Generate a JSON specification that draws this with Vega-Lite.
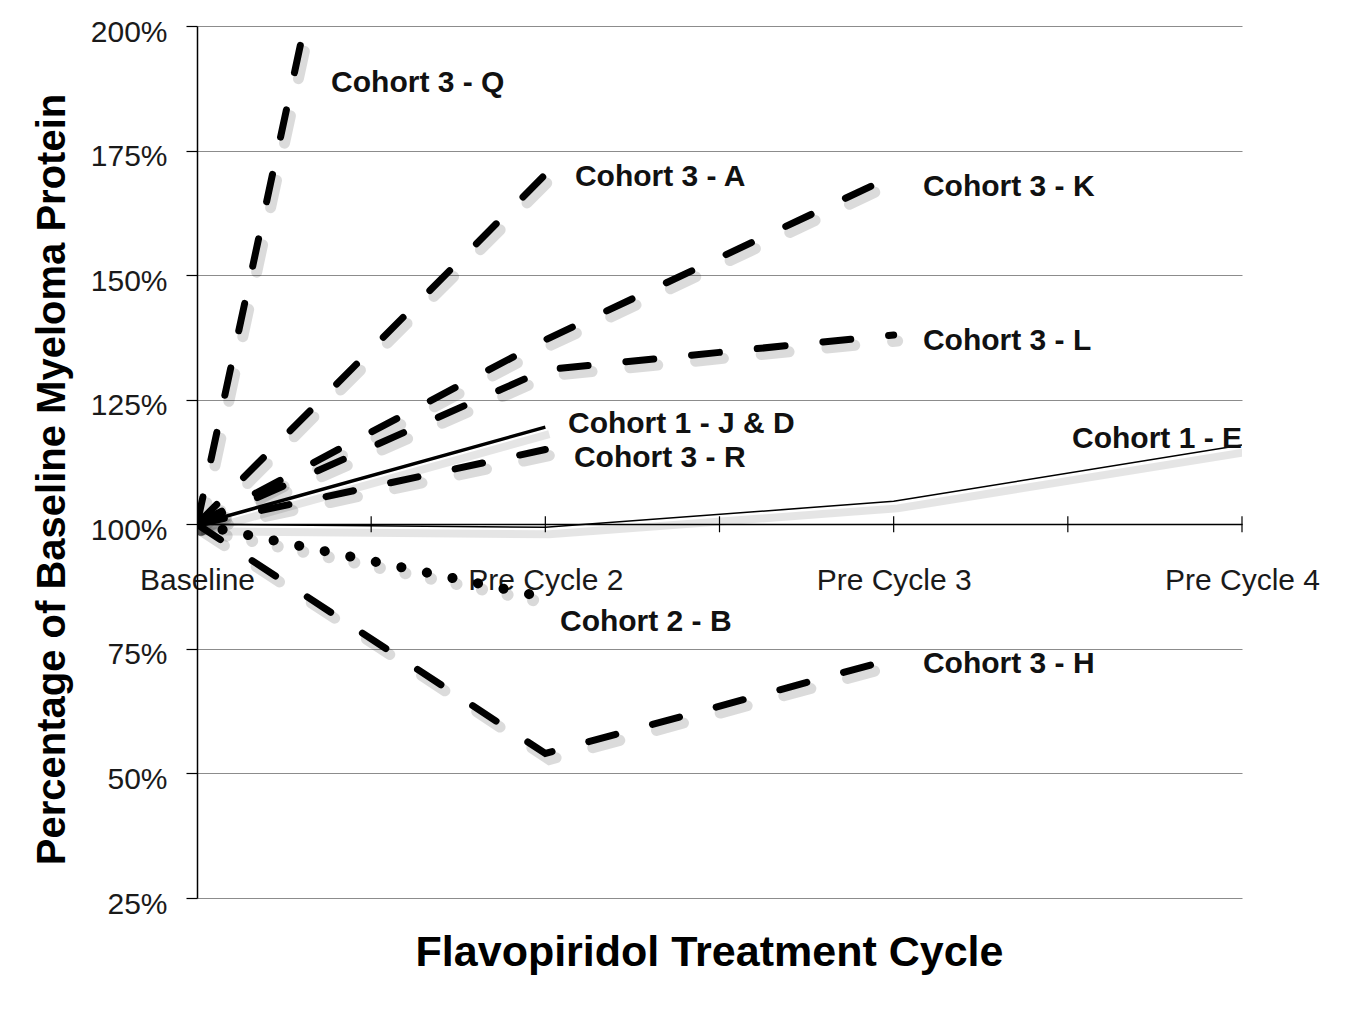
{
  "$schema": "https://vega.github.io/schema/vega-lite/v6.json",
  "width": 1045,
  "height": 872,
  "autosize": "none",
  "padding": {"left": 197, "top": 26, "right": 111, "bottom": 130},
  "background": "white",
  "datasets": {
    "series": [
      {"cohort": "Cohort 3 - Q", "cycle": "Baseline", "step": 0, "pct": 100},
      {"cohort": "Cohort 3 - Q", "cycle": "Pre Cycle 2", "step": 1, "pct": 424},
      {"cohort": "Cohort 3 - A", "cycle": "Baseline", "step": 0, "pct": 100},
      {"cohort": "Cohort 3 - A", "cycle": "Pre Cycle 2", "step": 1, "pct": 170.2},
      {"cohort": "Cohort 3 - K", "cycle": "Baseline", "step": 0, "pct": 100},
      {"cohort": "Cohort 3 - K", "cycle": "Pre Cycle 2", "step": 1, "pct": 137},
      {"cohort": "Cohort 3 - K", "cycle": "Pre Cycle 3", "step": 2, "pct": 170},
      {"cohort": "Cohort 3 - L", "cycle": "Baseline", "step": 0, "pct": 100},
      {"cohort": "Cohort 3 - L", "cycle": "Pre Cycle 2", "step": 1, "pct": 131},
      {"cohort": "Cohort 3 - L", "cycle": "Pre Cycle 3", "step": 2, "pct": 138},
      {"cohort": "Cohort 1 - J & D", "cycle": "Baseline", "step": 0, "pct": 100},
      {"cohort": "Cohort 1 - J & D", "cycle": "Pre Cycle 2", "step": 1, "pct": 119.5},
      {"cohort": "Cohort 3 - R", "cycle": "Baseline", "step": 0, "pct": 100},
      {"cohort": "Cohort 3 - R", "cycle": "Pre Cycle 2", "step": 1, "pct": 115},
      {"cohort": "Cohort 1 - E", "cycle": "Baseline", "step": 0, "pct": 100},
      {"cohort": "Cohort 1 - E", "cycle": "Pre Cycle 2", "step": 1, "pct": 99.4},
      {"cohort": "Cohort 1 - E", "cycle": "Pre Cycle 3", "step": 2, "pct": 104.6},
      {"cohort": "Cohort 1 - E", "cycle": "Pre Cycle 4", "step": 3, "pct": 115.9},
      {"cohort": "Cohort 2 - B", "cycle": "Baseline", "step": 0, "pct": 100},
      {"cohort": "Cohort 2 - B", "cycle": "Pre Cycle 2", "step": 1, "pct": 85.3},
      {"cohort": "Cohort 3 - H", "cycle": "Baseline", "step": 0, "pct": 100},
      {"cohort": "Cohort 3 - H", "cycle": "Pre Cycle 2", "step": 1, "pct": 54},
      {"cohort": "Cohort 3 - H", "cycle": "Pre Cycle 3", "step": 2, "pct": 73}
    ],
    "labels": [
      {"label": "Cohort 3 - Q", "step": 0.385, "pct": 189.1},
      {"label": "Cohort 3 - A", "step": 1.085, "pct": 170.2},
      {"label": "Cohort 3 - K", "step": 2.084, "pct": 168.2},
      {"label": "Cohort 3 - L", "step": 2.084, "pct": 137.3},
      {"label": "Cohort 1 - J & D", "step": 1.065, "pct": 120.7},
      {"label": "Cohort 3 - R", "step": 1.082, "pct": 114.0},
      {"label": "Cohort 1 - E", "step": 2.512, "pct": 117.8},
      {"label": "Cohort 2 - B", "step": 1.042, "pct": 80.9},
      {"label": "Cohort 3 - H", "step": 2.084, "pct": 72.5}
    ],
    "ticks": [
      {"step": 0.5, "pct": 100},
      {"step": 1, "pct": 100},
      {"step": 1.5, "pct": 100},
      {"step": 2, "pct": 100},
      {"step": 2.5, "pct": 100},
      {"step": 3, "pct": 100}
    ]
  },
  "encoding": {
    "x": {
      "field": "step",
      "type": "quantitative",
      "scale": {"domain": [0, 3], "nice": false, "zero": false},
      "axis": {
        "values": [0, 1, 2, 3],
        "labelExpr": "datum.value == 0 ? 'Baseline' : datum.value == 1 ? 'Pre Cycle 2' : datum.value == 2 ? 'Pre Cycle 3' : 'Pre Cycle 4'",
        "offset": -374,
        "ticks": false,
        "grid": false,
        "domainColor": "#000000",
        "domainWidth": 1.5,
        "labelFontSize": 30,
        "labelColor": "#1a1a1a",
        "labelPadding": 41,
        "labelFlush": false,
        "labelOverlap": false,
        "title": "Flavopiridol Treatment Cycle",
        "titleFontSize": 43,
        "titleFontWeight": "bold",
        "titleColor": "#000000",
        "titleX": 512,
        "titleY": 441,
        "titleAlign": "center",
        "titleBaseline": "alphabetic"
      }
    },
    "y": {
      "field": "pct",
      "type": "quantitative",
      "scale": {"domain": [25, 200], "nice": false, "zero": false},
      "axis": {
        "values": [25, 50, 75, 100, 125, 150, 175, 200],
        "labelExpr": "datum.value + '%'",
        "labelFontSize": 30,
        "labelColor": "#1a1a1a",
        "labelPadding": 19,
        "labelOffset": 6,
        "labelFlush": false,
        "labelOverlap": false,
        "tickSize": 11,
        "tickColor": "#000000",
        "tickWidth": 1.2,
        "domainColor": "#000000",
        "domainWidth": 1.5,
        "grid": true,
        "gridColor": "#8c8c8c",
        "gridWidth": 1.2,
        "title": "Percentage of Baseline Myeloma Protein",
        "titleFontSize": 40,
        "titleFontWeight": "bold",
        "titleColor": "#000000",
        "titleAngle": -90,
        "titleX": -145,
        "titleY": 453,
        "titleAlign": "center",
        "titleBaseline": "middle"
      }
    }
  },
  "layer": [
    {
      "data": {"name": "series"},
      "transform": [{"filter": {"field": "cohort", "oneOf": ["Cohort 3 - Q", "Cohort 3 - A", "Cohort 3 - K", "Cohort 3 - L", "Cohort 3 - R", "Cohort 3 - H"]}}],
      "mark": {"type": "line", "clip": true, "color": "#000000", "opacity": 0.14, "strokeWidth": 11, "strokeDash": [28, 38], "strokeCap": "round", "xOffset": 4, "yOffset": 6},
      "encoding": {"detail": {"field": "cohort"}}
    },
    {
      "data": {"name": "series"},
      "transform": [{"filter": {"field": "cohort", "oneOf": ["Cohort 1 - J & D", "Cohort 1 - E"]}}],
      "mark": {"type": "line", "clip": true, "color": "#000000", "opacity": 0.1, "strokeWidth": 8, "xOffset": 4, "yOffset": 7},
      "encoding": {"detail": {"field": "cohort"}}
    },
    {
      "data": {"name": "series"},
      "transform": [{"filter": {"field": "cohort", "equal": "Cohort 2 - B"}}],
      "mark": {"type": "line", "clip": true, "color": "#000000", "opacity": 0.15, "strokeWidth": 12, "strokeDash": [0.1, 26], "strokeCap": "round", "xOffset": 4, "yOffset": 6},
      "encoding": {"detail": {"field": "cohort"}}
    },
    {
      "data": {"name": "ticks"},
      "mark": {"type": "tick", "orient": "vertical", "color": "#000000", "thickness": 1.2, "size": 16, "opacity": 1}
    },
    {
      "data": {"name": "series"},
      "transform": [{"filter": {"field": "cohort", "oneOf": ["Cohort 3 - Q", "Cohort 3 - A", "Cohort 3 - K", "Cohort 3 - L", "Cohort 3 - R", "Cohort 3 - H"]}}],
      "mark": {"type": "line", "clip": true, "color": "#000000", "strokeWidth": 7, "strokeDash": [28, 38], "strokeCap": "round"},
      "encoding": {"detail": {"field": "cohort"}}
    },
    {
      "data": {"name": "series"},
      "transform": [{"filter": {"field": "cohort", "equal": "Cohort 1 - J & D"}}],
      "mark": {"type": "line", "clip": true, "color": "#000000", "strokeWidth": 3.5},
      "encoding": {"detail": {"field": "cohort"}}
    },
    {
      "data": {"name": "series"},
      "transform": [{"filter": {"field": "cohort", "equal": "Cohort 1 - E"}}],
      "mark": {"type": "line", "clip": true, "color": "#000000", "strokeWidth": 1.5},
      "encoding": {"detail": {"field": "cohort"}}
    },
    {
      "data": {"name": "series"},
      "transform": [{"filter": {"field": "cohort", "equal": "Cohort 2 - B"}}],
      "mark": {"type": "line", "clip": true, "color": "#000000", "strokeWidth": 10, "strokeDash": [0.1, 26], "strokeCap": "round"},
      "encoding": {"detail": {"field": "cohort"}}
    },
    {
      "data": {"name": "labels"},
      "mark": {"type": "text", "align": "left", "baseline": "middle", "dy": 3, "fontSize": 30, "fontWeight": "bold", "color": "#111111"},
      "encoding": {"text": {"field": "label"}}
    }
  ],
  "config": {
    "font": "Liberation Sans",
    "view": {"stroke": null}
  }
}
